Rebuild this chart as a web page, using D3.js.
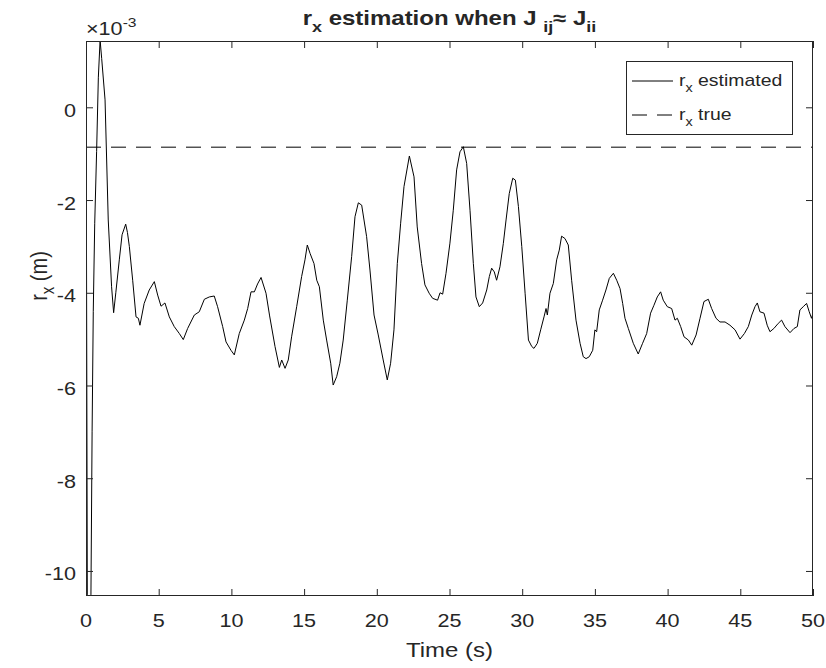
<!DOCTYPE html>
<html>
<head>
<meta charset="utf-8">
<script src="https://cdn.jsdelivr.net/npm/d3@7"></script>
<style>
  html, body { margin: 0; padding: 0; background: #fff; }
  svg { display: block; }
  text { font-family: 'Liberation Sans', Arial, Helvetica, sans-serif; fill: #262626; }
</style>
</head>
<body>
<svg id="chart" width="826" height="668"></svg>
<script>
// ---- data (values in units of 1e-3 m) ----
const time = [0,0.03,0.09,0.2,0.3,0.34,0.42,0.5,0.6,0.73,0.85,0.97,1.08,1.31,1.53,1.76,1.9,2.05,2.29,2.48,2.73,2.85,2.98,3.21,3.44,3.6,3.71,4.0,4.35,4.7,4.93,5.16,5.43,5.73,6.07,6.42,6.69,6.99,7.45,7.79,8.14,8.48,8.82,9.05,9.4,9.63,9.97,10.2,10.54,10.89,11.12,11.35,11.58,11.8,12.04,12.38,12.63,13.0,13.3,13.46,13.69,13.91,14.14,14.49,14.83,15.06,15.22,15.41,15.68,15.87,16.05,16.32,16.55,16.83,17.0,17.24,17.46,17.69,17.97,18.27,18.5,18.73,18.96,19.3,19.53,19.81,20.1,20.44,20.72,20.95,21.18,21.41,21.64,21.87,22.24,22.56,22.78,23.08,23.31,23.6,23.84,24.18,24.35,24.53,24.76,25.03,25.26,25.49,25.72,25.95,26.18,26.41,26.64,26.82,27.05,27.28,27.56,27.74,27.9,28.08,28.24,28.47,28.7,28.89,29.11,29.35,29.53,29.74,29.97,30.2,30.43,30.66,30.81,31.04,31.27,31.5,31.64,31.73,31.91,32.14,32.37,32.55,32.71,32.94,33.17,33.4,33.7,33.98,34.2,34.39,34.61,34.85,35.0,35.12,35.3,35.53,35.76,35.99,36.27,36.5,36.73,36.91,37.07,37.3,37.64,37.98,38.28,38.56,38.83,39.06,39.29,39.52,39.7,39.98,40.28,40.51,40.67,40.9,41.13,41.43,41.66,41.96,42.23,42.5,42.8,43.03,43.33,43.6,43.95,44.29,44.64,44.98,45.28,45.55,45.79,46.01,46.17,46.35,46.63,46.85,47.04,47.31,47.61,47.84,48.07,48.42,48.69,48.92,49.1,49.33,49.56,49.74,49.9,50.0];
const rxEstimated = [-1.0,-2.5,-10.5,-12.8,-12.0,-10.5,-7.0,-4.4,-2.5,-0.95,0.65,1.45,1.05,0.16,-2.43,-3.87,-4.43,-4.0,-3.29,-2.75,-2.52,-2.7,-3.0,-3.73,-4.52,-4.55,-4.7,-4.23,-3.94,-3.76,-4.05,-4.29,-4.22,-4.52,-4.73,-4.88,-5.01,-4.77,-4.48,-4.41,-4.14,-4.09,-4.07,-4.3,-4.73,-5.06,-5.24,-5.34,-4.88,-4.59,-4.34,-3.98,-3.98,-3.81,-3.67,-4.01,-4.5,-5.16,-5.61,-5.45,-5.63,-5.45,-4.95,-4.3,-3.65,-3.29,-2.97,-3.15,-3.37,-3.73,-3.87,-4.59,-5.02,-5.52,-5.99,-5.81,-5.52,-5.02,-4.16,-3.22,-2.36,-2.06,-2.11,-2.79,-3.51,-4.48,-4.91,-5.45,-5.88,-5.52,-4.8,-3.37,-2.5,-1.71,-1.05,-1.5,-2.58,-3.37,-3.83,-4.01,-4.12,-4.16,-4.0,-4.03,-3.58,-2.93,-2.22,-1.35,-0.96,-0.85,-1.21,-2.22,-3.37,-4.09,-4.3,-4.22,-3.94,-3.65,-3.47,-3.55,-3.73,-3.44,-2.94,-2.43,-1.86,-1.53,-1.57,-2.14,-3.0,-4.01,-5.02,-5.16,-5.2,-5.09,-4.8,-4.52,-4.34,-4.48,-4.01,-3.8,-3.29,-3.08,-2.78,-2.83,-2.97,-3.73,-4.59,-5.09,-5.38,-5.42,-5.38,-5.24,-4.8,-4.84,-4.37,-4.16,-3.94,-3.69,-3.58,-3.73,-3.91,-4.23,-4.55,-4.77,-5.09,-5.32,-5.09,-4.88,-4.44,-4.27,-4.09,-3.98,-4.16,-4.3,-4.34,-4.59,-4.55,-4.73,-4.95,-5.02,-5.13,-4.91,-4.55,-4.19,-4.14,-4.34,-4.55,-4.63,-4.63,-4.7,-4.8,-5.0,-4.88,-4.73,-4.48,-4.3,-4.22,-4.41,-4.44,-4.7,-4.84,-4.77,-4.66,-4.59,-4.73,-4.86,-4.77,-4.73,-4.37,-4.3,-4.23,-4.41,-4.55,-4.44];
const rxTrue = -0.86;
const xTicks = [0,5,10,15,20,25,30,35,40,45,50];
const yTicks = [-10,-8,-6,-4,-2,0];
const xDomain = [0, 50];
const yDomain = [-10.54, 1.43];

// ---- layout ----
const svg = d3.select('#chart');
const L = 86, R = 813, T = 41, B = 596;
const axisColor = '#262626';
const SX = 1.2;           // horizontal stretch of the original figure's text
const fsTick = 18, fsLabel = 20, fsTitle = 20, fsLegend = 16.2;

const x = d3.scaleLinear().domain(xDomain).range([L, R]);
const y = d3.scaleLinear().domain(yDomain).range([B, T]);

// text helper: stretched horizontally around its anchor point
function addText(parent, px, py, size, anchor, extra) {
  return parent.append('text')
    .attr('transform', `translate(${px},${py}) scale(${SX},1)` + (extra || ''))
    .attr('text-anchor', anchor || 'start')
    .style('font-size', size + 'px');
}

svg.append('defs').append('clipPath').attr('id', 'clip')
  .append('rect').attr('x', L).attr('y', T).attr('width', R - L).attr('height', B - T);

const plot = svg.append('g').attr('clip-path', 'url(#clip)');

// true line (dashed)
plot.append('line')
  .attr('x1', x(xDomain[0])).attr('x2', x(xDomain[1]))
  .attr('y1', y(rxTrue)).attr('y2', y(rxTrue))
  .attr('stroke', '#000').attr('stroke-width', 1).attr('stroke-dasharray', '15,10');

// estimated curve
const pts = time.map((t, i) => [t, rxEstimated[i]]);
plot.append('path')
  .attr('d', d3.line().x(d => x(d[0])).y(d => y(d[1]))(pts))
  .attr('fill', 'none').attr('stroke', '#000').attr('stroke-width', 1);

// axes (tick marks on all four sides, labels drawn separately)
const tickLen = 7;
const ax = svg.append('g');
function styleAxis(g) {
  g.selectAll('.tick line').attr('stroke', axisColor);
  g.selectAll('.tick text').remove();
  g.selectAll('path.domain').remove();
}
styleAxis(ax.append('g').attr('transform', `translate(0,${B})`)
  .call(d3.axisBottom(x).tickValues(xTicks).tickSizeInner(-tickLen).tickSizeOuter(0)));
styleAxis(ax.append('g').attr('transform', `translate(0,${T})`)
  .call(d3.axisTop(x).tickValues(xTicks).tickSizeInner(-tickLen).tickSizeOuter(0)));
styleAxis(ax.append('g').attr('transform', `translate(${L},0)`)
  .call(d3.axisLeft(y).tickValues(yTicks).tickSizeInner(-tickLen).tickSizeOuter(0)));
styleAxis(ax.append('g').attr('transform', `translate(${R},0)`)
  .call(d3.axisRight(y).tickValues(yTicks).tickSizeInner(-tickLen).tickSizeOuter(0)));
ax.append('rect').attr('x', L + 0.5).attr('y', T + 0.5).attr('width', R - L - 1).attr('height', B - T - 1)
  .attr('fill', 'none').attr('stroke', axisColor).attr('stroke-width', 1);

// tick labels
const tl = svg.append('g');
xTicks.forEach(v => addText(tl, x(v), 626.5, fsTick, 'middle').text(String(v)));
yTicks.forEach(v => addText(tl, 76, y(v) + 9.5, fsTick, 'end').text(String(v)));

// exponent label
const ex = addText(svg, 86, 35, fsTick, 'start');
ex.append('tspan').text('\u00d7');
ex.append('tspan').text('10');
ex.append('tspan').attr('dy', -8).style('font-size', '13px').text('-3');

// title
const title = addText(svg, (L + R) / 2, 25, fsTitle, 'middle')
  .style('font-weight', 'bold').attr('fill', '#000');
title.append('tspan').text('r');
title.append('tspan').attr('dy', 7).style('font-size', '15px').text('x');
title.append('tspan').attr('dy', -7).text(' estimation when J ');
title.append('tspan').attr('dy', 7).style('font-size', '15px').text('ij');
title.append('tspan').attr('dy', -7).text('\u2248 J');
title.append('tspan').attr('dy', 7).style('font-size', '15px').text('ii');

// x label
addText(svg, (L + R) / 2, 656.5, fsLabel, 'middle').text('Time (s)');

// y label (rotated; stretched horizontally on screen)
const yl = addText(svg, 47, 276, fsLabel, 'middle', ' rotate(-90)');
yl.append('tspan').text('r');
yl.append('tspan').attr('dy', 6).style('font-size', '15px').text('x');
yl.append('tspan').attr('dy', -6).text(' (m)');

// legend
const lg = svg.append('g');
lg.append('rect').attr('x', 626.5).attr('y', 61.5).attr('width', 166).attr('height', 73)
  .attr('fill', '#fff').attr('stroke', axisColor).attr('stroke-width', 1);
const legendItems = [
  { label: 'estimated', dash: null, yy: 81 },
  { label: 'true', dash: '15,10', yy: 115 }
];
legendItems.forEach(it => {
  lg.append('line').attr('x1', 632).attr('x2', 673).attr('y1', it.yy).attr('y2', it.yy)
    .attr('stroke', '#000').attr('stroke-width', 1).attr('stroke-dasharray', it.dash);
  const t = addText(lg, 679, it.yy + 5, fsLegend, 'start').attr('fill', '#000');
  t.append('tspan').text('r');
  t.append('tspan').attr('dy', 6).style('font-size', '12px').text('x');
  t.append('tspan').attr('dy', -6).text(' ' + it.label);
});
</script>
</body>
</html>
